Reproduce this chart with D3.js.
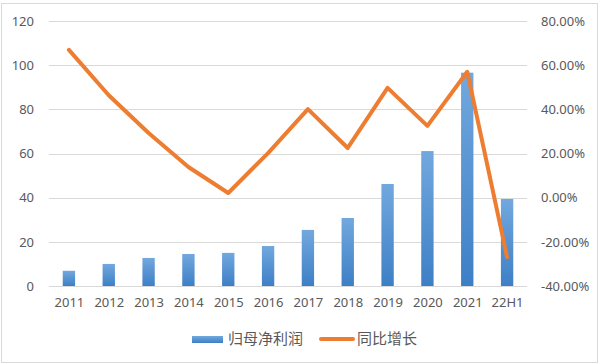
<!DOCTYPE html>
<html><head><meta charset="utf-8">
<script src="https://cdn.jsdelivr.net/npm/d3@7"></script>
<style>body{margin:0;background:#fff;}svg{display:block;font-family:"Noto Sans","Noto Sans CJK SC",sans-serif;}</style>
</head><body>
<svg id="c" width="602" height="364"></svg>
<script>
const categories = ["2011","2012","2013","2014","2015","2016","2017","2018","2019","2020","2021","22H1"];
const profit = [6.9,10,12.7,14.5,15,18.1,25.4,30.8,46.2,61.1,96.6,39.4];
const growth = [66.9,46.4,29.3,13.9,2.1,20.2,40.1,22.5,49.7,32.5,57,-26.9];
const leftTicks = [0,20,40,60,80,100,120];
const rightTicks = [-40,-20,0,20,40,60,80];
const seriesNames = ["归母净利润","同比增长"];

const svg = d3.select("#c");
const W=602,H=364;
const m={l:49,r:75,t:21,b:78};
const x0=m.l, x1=W-m.r, y0=H-m.b, y1=m.t;

svg.append("rect").attr("x",1.5).attr("y",3.5).attr("width",596).attr("height",359).attr("fill","#fff").attr("stroke","#d9d9d9");

const defs=svg.append("defs");
const g=defs.append("linearGradient").attr("id","bg").attr("x1",0).attr("y1",0).attr("x2",0).attr("y2",1);
g.append("stop").attr("offset","0%").attr("stop-color","#72a8de");
g.append("stop").attr("offset","100%").attr("stop-color","#3d7fc6");

const x=d3.scaleBand().domain(categories).range([x0,x1]).paddingInner(0.69).paddingOuter(0.345);
const yl=d3.scaleLinear().domain([0,120]).range([y0,y1]);
const yr=d3.scaleLinear().domain([-40,80]).range([y0,y1]);

// grid
svg.append("g").selectAll("line").data(leftTicks).join("line")
  .attr("x1",x0).attr("x2",x1).attr("y1",d=>Math.round(yl(d))+0.5).attr("y2",d=>Math.round(yl(d))+0.5)
  .attr("stroke","#d9d9d9").attr("stroke-width",1);

// left axis
const la=svg.append("g").attr("transform",`translate(${x0-15},0)`)
  .call(d3.axisLeft(yl).tickValues(leftTicks).tickSize(0).tickPadding(0));
la.select(".domain").remove();
la.selectAll("text").attr("fill","#595959").style("font-size","13px").style("font-family","Noto Sans");

// right axis
const ra=svg.append("g").attr("transform",`translate(${x1+14},0)`)
  .call(d3.axisRight(yr).tickValues(rightTicks).tickSize(0).tickPadding(0).tickFormat(d=>d.toFixed(2)+"%"));
ra.select(".domain").remove();
ra.selectAll("text").attr("fill","#595959").style("font-size","13px").style("font-family","Noto Sans");

// x axis
const xa=svg.append("g").attr("transform",`translate(0,${y0+12})`)
  .call(d3.axisBottom(d3.scalePoint().domain(categories).range([x0+x.step()/2,x1-x.step()/2])).tickSize(0).tickPadding(0));
xa.select(".domain").remove();
xa.selectAll("text").attr("fill","#595959").style("font-size","13px").style("font-family","Noto Sans");

// bars
svg.append("g").selectAll("rect").data(profit).join("rect")
  .attr("x",(d,i)=>x(categories[i])).attr("width",x.bandwidth())
  .attr("y",d=>yl(d)).attr("height",d=>yl(0)-yl(d)).attr("fill","url(#bg)");

// line
const cx=i=>x(categories[i])+x.bandwidth()/2;
svg.append("path").datum(growth)
  .attr("d",d3.line().x((d,i)=>cx(i)).y(d=>yr(d)))
  .attr("fill","none").attr("stroke","#ed7d31").attr("stroke-width",4).attr("stroke-linejoin","round").attr("stroke-linecap","round");

// legend
const ly=339;
svg.append("rect").attr("x",192).attr("y",ly-3).attr("width",31).attr("height",7).attr("fill","url(#bg)");
svg.append("text").attr("x",228).attr("y",ly+5).text(seriesNames[0]).attr("fill","#595959").style("font-size","15px").style("font-family","Noto Sans CJK SC");
svg.append("line").attr("x1",321).attr("x2",353).attr("y1",ly).attr("y2",ly).attr("stroke","#ed7d31").attr("stroke-width",4).attr("stroke-linecap","round");
svg.append("text").attr("x",357).attr("y",ly+5).text(seriesNames[1]).attr("fill","#595959").style("font-size","15px").style("font-family","Noto Sans CJK SC");
</script>
</body></html>
